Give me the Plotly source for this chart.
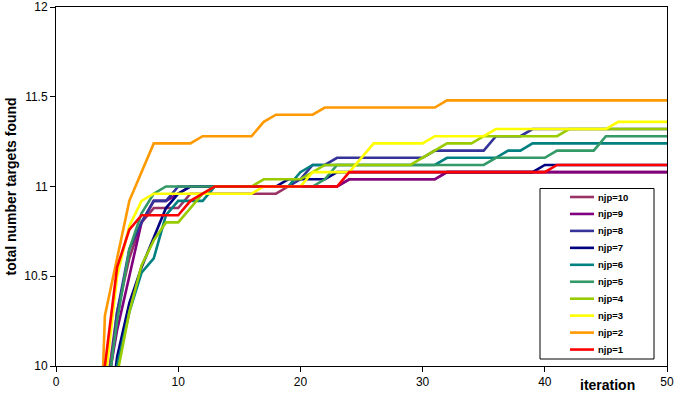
import plotly.graph_objects as go

# ---- data (iteration vertices of each polyline) ----
names = ["njp=10", "njp=9", "njp=8", "njp=7", "njp=6", "njp=5", "njp=4", "njp=3", "njp=2", "njp=1"]
colors = ["#993366", "#800080", "#333399", "#000080", "#008080", "#339966", "#99CC00", "#FFFF00", "#FF9900", "#FF0000"]

x_njp10 = [3, 4, 5, 6, 7, 8, 10, 11, 18, 19, 23, 24, 31, 32, 50]
y_njp10 = [8.9, 9.8, 10.3, 10.6, 10.8, 10.88, 10.88, 10.96, 10.96, 11.0, 11.0, 11.04, 11.04, 11.08, 11.08]

x_njp9 = [3, 4, 5, 6, 7, 8, 9, 10, 11, 23, 24, 31, 32, 50]
y_njp9 = [8.9, 9.8, 10.2, 10.5, 10.8, 10.92, 10.92, 10.96, 11.0, 11.0, 11.04, 11.04, 11.08, 11.08]

x_njp8 = [3, 4, 5, 6, 7, 8, 9, 10, 19, 20, 21, 22, 23, 30, 31, 35, 36, 38, 39, 50]
y_njp8 = [8.8, 9.7, 10.3, 10.65, 10.8, 10.92, 10.92, 11.0, 11.0, 11.04, 11.12, 11.12, 11.16, 11.16, 11.2, 11.2, 11.28, 11.28, 11.32, 11.32]

x_njp7 = [3, 4, 5, 6, 7, 8, 9, 10, 11, 18, 19, 22, 23, 39, 40, 50]
y_njp7 = [8.6, 9.5, 10.05, 10.35, 10.55, 10.72, 10.88, 10.96, 11.0, 11.0, 11.04, 11.04, 11.08, 11.08, 11.12, 11.12]

x_njp6 = [3, 4, 5, 6, 7, 8, 9, 10, 12, 13, 19, 20, 21, 31, 32, 36, 37, 38, 39, 50]
y_njp6 = [8.4, 9.4, 10.0, 10.3, 10.52, 10.6, 10.84, 10.92, 10.92, 11.0, 11.0, 11.08, 11.12, 11.12, 11.16, 11.16, 11.2, 11.2, 11.24, 11.24]

x_njp5 = [3, 4, 5, 6, 7, 8, 9, 21, 22, 23, 35, 36, 40, 41, 44, 45, 50]
y_njp5 = [8.8, 9.75, 10.25, 10.65, 10.85, 10.96, 11.0, 11.0, 11.04, 11.12, 11.12, 11.16, 11.16, 11.2, 11.2, 11.28, 11.28]

x_njp4 = [3, 4, 5, 6, 7, 8, 9, 10, 11, 12, 13, 16, 17, 20, 21, 22, 29, 30, 31, 32, 34, 35, 41, 42, 50]
y_njp4 = [8.3, 9.3, 9.95, 10.3, 10.56, 10.7, 10.8, 10.8, 10.88, 10.96, 11.0, 11.0, 11.04, 11.04, 11.08, 11.12, 11.12, 11.16, 11.2, 11.24, 11.24, 11.28, 11.28, 11.32, 11.32]

x_njp3 = [3, 4, 5, 6, 7, 8, 16, 17, 20, 21, 24, 26, 30, 31, 35, 36, 45, 46, 50]
y_njp3 = [8.8, 9.9, 10.5, 10.78, 10.92, 10.96, 10.96, 11.0, 11.0, 11.08, 11.08, 11.24, 11.24, 11.28, 11.28, 11.32, 11.32, 11.36, 11.36]

x_njp2 = [3, 4, 6, 8, 11, 12, 16, 17, 18, 21, 22, 31, 32, 50]
y_njp2 = [8.3, 10.28, 10.92, 11.24, 11.24, 11.28, 11.28, 11.36, 11.4, 11.4, 11.44, 11.44, 11.48, 11.48]

x_njp1 = [3, 4, 5, 6, 7, 10, 11, 12, 13, 23, 24, 40, 41, 50]
y_njp1 = [8.5, 10.0, 10.55, 10.76, 10.84, 10.84, 10.92, 10.96, 11.0, 11.0, 11.08, 11.08, 11.12, 11.12]

xs = [x_njp10, x_njp9, x_njp8, x_njp7, x_njp6, x_njp5, x_njp4, x_njp3, x_njp2, x_njp1]
ys = [y_njp10, y_njp9, y_njp8, y_njp7, y_njp6, y_njp5, y_njp4, y_njp3, y_njp2, y_njp1]

x_ticks = [0, 10, 20, 30, 40, 50]
y_ticks = [10, 10.5, 11, 11.5, 12]
y_tick_text = ["10", "10.5", "11", "11.5", "12"]

FONT = "Liberation Sans, Arial, sans-serif"
W, H = 676, 404
L, R, T, B = 56, 9, 7, 38
PW, PH = W - L - R, H - T - B


def px_x(p):
    return (p - L) / PW


def px_y(p):
    return (H - B - p) / PH


fig = go.Figure()
for name, col, xv, yv in zip(names, colors, xs, ys):
    fig.add_trace(go.Scatter(x=xv, y=yv, mode="lines", name=name, showlegend=False,
                             line=dict(color=col, width=2.6)))

# legend box drawn by hand (Excel-like compact spacing)
shapes = [dict(type="rect", xref="paper", yref="paper",
               x0=px_x(540), x1=px_x(654), y0=px_y(359), y1=px_y(188.5),
               line=dict(color="black", width=1), fillcolor="white", layer="above")]
annotations = []
for i, (name, col) in enumerate(zip(names, colors)):
    yy = px_y(197 + 16.95 * i)
    shapes.append(dict(type="line", xref="paper", yref="paper",
                       x0=px_x(570), x1=px_x(594), y0=yy, y1=yy,
                       line=dict(color=col, width=2.6), layer="above"))
    annotations.append(dict(text=name, x=px_x(596), y=yy, xref="paper", yref="paper",
                            showarrow=False, xanchor="left", yanchor="middle",
                            font=dict(family=FONT, size=9.5, color="black", weight="bold")))

annotations.append(dict(text="iteration", x=px_x(607), y=px_y(384.5), xref="paper", yref="paper",
                        showarrow=False, xanchor="center", yanchor="middle",
                        font=dict(family=FONT, size=14, color="black", weight="bold")))
annotations.append(dict(text="total number targets found", x=px_x(10), y=0.5, xref="paper", yref="paper",
                        showarrow=False, xanchor="center", yanchor="middle", textangle=-90,
                        font=dict(family=FONT, size=14, color="black", weight="bold")))

fig.update_layout(
    width=W, height=H,
    margin=dict(l=L, r=R, t=T, b=B),
    paper_bgcolor="white", plot_bgcolor="white",
    font=dict(family=FONT, size=12, color="black"),
    showlegend=False,
    shapes=shapes, annotations=annotations,
)
fig.update_xaxes(
    range=[0, 50], tickvals=x_ticks, showgrid=False, zeroline=False,
    showline=True, linecolor="black", linewidth=1, mirror=True,
    ticks="outside", ticklen=5, tickcolor="black",
    tickfont=dict(family=FONT, size=12), automargin=False,
)
fig.update_yaxes(
    range=[10, 12], tickvals=y_ticks, ticktext=y_tick_text, showgrid=False, zeroline=False,
    showline=True, linecolor="black", linewidth=1, mirror=True,
    ticks="outside", ticklen=5, tickcolor="black",
    tickfont=dict(family=FONT, size=12), automargin=False,
)

fig.write_html("out.html")
